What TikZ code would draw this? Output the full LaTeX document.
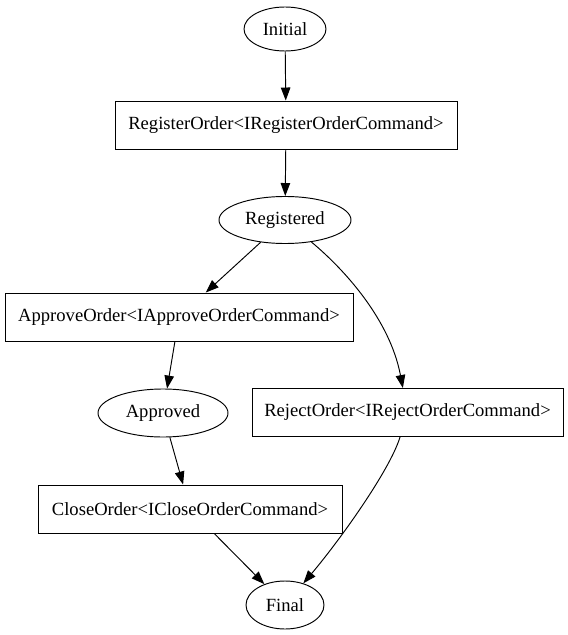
\documentclass[tikz,border=0pt]{standalone}
\usepackage{fontspec}
\setmainfont{Liberation Serif}
\usetikzlibrary{arrows.meta,shapes.geometric}
\begin{document}
\begin{tikzpicture}[x=1bp,y=-1bp,
  every node/.style={font=\fontsize{18.6bp}{22bp}\selectfont, inner sep=0pt},
  state/.style={draw, ellipse, line width=0.95bp},
  cmd/.style={draw, rectangle, line width=0.95bp, minimum height=48bp},
  edge/.style={draw, line width=0.95bp, -{Triangle[length=13bp,width=9.5bp]}}]
\useasboundingbox (0,0) rectangle (568,635);
\node[state, minimum width=82bp, minimum height=44bp] (init) at (285,29) {Initial};
\node[cmd, minimum width=342bp] (regcmd) at (286,125) {RegisterOrder<IRegisterOrderCommand>};
\node[state, minimum width=132bp, minimum height=47bp] (reg) at (285,220) {Registered};
\node[cmd, minimum width=348bp] (appcmd) at (179,317) {ApproveOrder<IApproveOrderCommand>};
\node[state, minimum width=130bp, minimum height=48bp] (app) at (163,413) {Approved};
\node[cmd, minimum width=311bp] (rejcmd) at (407.5,412.5) {RejectOrder<IRejectOrderCommand>};
\node[cmd, minimum width=304bp] (clscmd) at (190,509) {CloseOrder<ICloseOrderCommand>};
\node[state, minimum width=78bp, minimum height=48bp] (fin) at (285,605) {Final};
\draw[edge] (init) -- (regcmd);
\draw[edge] (regcmd) -- (reg);
\draw[edge] (reg) -- (appcmd);
\draw[edge] (reg) .. controls (345,270) and (390,320) .. (rejcmd);
\draw[edge] (appcmd) -- (app);
\draw[edge] (app) -- (clscmd);
\draw[edge] (clscmd) -- (fin);
\draw[edge] (rejcmd) .. controls (390,470) and (340,540) .. (fin);
\end{tikzpicture}
\end{document}
